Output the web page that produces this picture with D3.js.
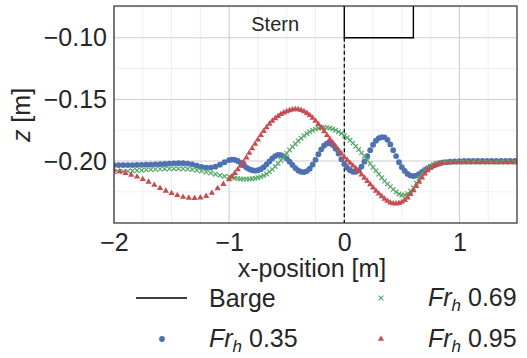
<!DOCTYPE html>
<html>
<head>
<meta charset="utf-8">
<script src="https://cdn.jsdelivr.net/npm/d3@7"></script>
<style>
  body { margin: 0; background: #fff; }
  svg text { font-family: "Liberation Sans", Arial, sans-serif; fill: #262626; }
</style>
</head>
<body>
<svg id="chart" width="527" height="358"></svg>
<script>
// x positions: coarse away from the barge, fine near it
const xLeftBG = [
  -2.00, -1.96, -1.92, -1.88, -1.84, -1.80, -1.76, -1.72, -1.68, -1.64,
  -1.60, -1.56, -1.52, -1.48, -1.44, -1.40, -1.36, -1.32, -1.28, -1.24,
  -1.20, -1.16, -1.12, -1.08, -1.04
];
const xLeftRed = [
  -2.00, -1.95, -1.90, -1.85, -1.80, -1.75, -1.70, -1.65, -1.60, -1.55,
  -1.50, -1.45, -1.40, -1.35, -1.30, -1.25, -1.20, -1.15, -1.10, -1.05
];
const xMid = [
  -1.000, -0.975, -0.950, -0.925, -0.900, -0.875, -0.850, -0.825, -0.800, -0.775,
  -0.750, -0.725, -0.700, -0.675, -0.650, -0.625, -0.600, -0.575, -0.550, -0.525,
  -0.500, -0.475, -0.450, -0.425, -0.400, -0.375, -0.350, -0.325, -0.300, -0.275,
  -0.250, -0.225, -0.200, -0.175, -0.150, -0.125, -0.100, -0.075, -0.050, -0.025,
  0.000, 0.025, 0.050, 0.075, 0.100, 0.125, 0.150, 0.175, 0.200, 0.225,
  0.250, 0.275, 0.300, 0.325, 0.350, 0.375, 0.400, 0.425, 0.450, 0.475,
  0.500, 0.525, 0.550, 0.575, 0.600, 0.625, 0.650, 0.675, 0.700, 0.725,
  0.750, 0.775, 0.800, 0.825, 0.850
];
const xRightBG = [0.88, 0.92, 0.96, 1.00, 1.04, 1.08, 1.12, 1.16, 1.20, 1.24, 1.28, 1.32, 1.36, 1.40, 1.44, 1.48];
const xRightRed = [0.90, 0.95, 1.00, 1.05, 1.10, 1.15, 1.20, 1.25, 1.30, 1.35, 1.40, 1.45, 1.50];

const zFr035 = [
  -0.2033, -0.2033, -0.2033, -0.2033, -0.2033, -0.2032, -0.2031, -0.2030, -0.2029, -0.2027,
  -0.2026, -0.2024, -0.2021, -0.2019, -0.2018, -0.2018, -0.2021, -0.2027, -0.2037, -0.2047,
  -0.2053, -0.2053, -0.2046, -0.2030, -0.2010,
  -0.1992, -0.1988, -0.1990, -0.2000, -0.2015, -0.2035, -0.2052, -0.2066, -0.2075, -0.2078,
  -0.2075, -0.2066, -0.2050, -0.2028, -0.2003, -0.1978, -0.1960, -0.1950, -0.1952, -0.1962,
  -0.1980, -0.2005, -0.2032, -0.2057, -0.2077, -0.2088, -0.2090, -0.2082, -0.2062, -0.2030,
  -0.1990, -0.1945, -0.1905, -0.1874, -0.1858, -0.1856, -0.1870, -0.1900, -0.1940, -0.1985,
  -0.2025, -0.2055, -0.2075, -0.2087, -0.2088, -0.2075, -0.2045, -0.2005, -0.1960, -0.1912,
  -0.1868, -0.1835, -0.1814, -0.1806, -0.1808, -0.1828, -0.1865, -0.1912, -0.1960, -0.2010,
  -0.2050, -0.2080, -0.2105, -0.2118, -0.2122, -0.2118, -0.2105, -0.2088, -0.2072, -0.2060,
  -0.2048, -0.2037, -0.2027, -0.2019, -0.2013,
  -0.2009, -0.2005, -0.2003, -0.2001, -0.2000, -0.2000, -0.2000, -0.2000, -0.2000, -0.2000,
  -0.2000, -0.2000, -0.2000, -0.2000, -0.2000, -0.2000
];

const zFr069 = [
  -0.2088, -0.2086, -0.2084, -0.2082, -0.2079, -0.2077, -0.2075, -0.2072, -0.2070, -0.2068,
  -0.2066, -0.2064, -0.2063, -0.2062, -0.2062, -0.2063, -0.2065, -0.2069, -0.2075, -0.2082,
  -0.2090, -0.2098, -0.2107, -0.2115, -0.2123,
  -0.2128, -0.2134, -0.2139, -0.2143, -0.2146, -0.2147, -0.2147, -0.2146, -0.2144, -0.2140,
  -0.2135, -0.2128, -0.2118, -0.2105, -0.2088, -0.2068, -0.2045, -0.2020, -0.1993, -0.1965,
  -0.1938, -0.1910, -0.1884, -0.1860, -0.1837, -0.1815, -0.1795, -0.1778, -0.1763, -0.1751,
  -0.1741, -0.1734, -0.1730, -0.1728, -0.1729, -0.1733, -0.1740, -0.1750, -0.1762, -0.1777,
  -0.1793, -0.1811, -0.1832, -0.1855, -0.1880, -0.1906, -0.1934, -0.1963, -0.1992, -0.2021,
  -0.2050, -0.2079, -0.2107, -0.2135, -0.2163, -0.2186, -0.2208, -0.2230, -0.2252, -0.2268,
  -0.2277, -0.2276, -0.2265, -0.2245, -0.2215, -0.2178, -0.2140, -0.2105, -0.2077, -0.2056,
  -0.2040, -0.2028, -0.2020, -0.2015, -0.2012,
  -0.2010, -0.2009, -0.2008, -0.2008, -0.2008, -0.2008, -0.2008, -0.2008, -0.2008, -0.2008,
  -0.2008, -0.2008, -0.2008, -0.2008, -0.2008, -0.2008
];

const zFr095 = [
  -0.2073, -0.2085, -0.2098, -0.2112, -0.2128, -0.2148, -0.2170, -0.2195, -0.2220, -0.2243,
  -0.2262, -0.2278, -0.2292, -0.2300, -0.2302, -0.2298, -0.2285, -0.2260, -0.2222, -0.2188,
  -0.2150, -0.2125, -0.2098, -0.2069, -0.2040, -0.2007, -0.1972, -0.1935, -0.1898, -0.1862,
  -0.1826, -0.1791, -0.1758, -0.1727, -0.1699, -0.1675, -0.1654, -0.1636, -0.1620, -0.1607,
  -0.1597, -0.1589, -0.1583, -0.1580, -0.1581, -0.1587, -0.1597, -0.1611, -0.1629, -0.1650,
  -0.1674, -0.1701, -0.1730, -0.1760, -0.1791, -0.1822, -0.1852, -0.1882, -0.1911, -0.1940,
  -0.1968, -0.1993, -0.2016, -0.2038, -0.2060, -0.2085, -0.2110, -0.2137, -0.2163, -0.2190,
  -0.2217, -0.2242, -0.2265, -0.2287, -0.2308, -0.2325, -0.2338, -0.2345, -0.2346, -0.2342,
  -0.2333, -0.2318, -0.2297, -0.2270, -0.2238, -0.2205, -0.2170, -0.2135, -0.2103, -0.2077,
  -0.2057, -0.2042, -0.2031, -0.2023, -0.2017,
  -0.2013, -0.2011, -0.2011, -0.2012, -0.2012, -0.2012, -0.2012, -0.2012, -0.2012, -0.2012,
  -0.2012, -0.2012, -0.2012
];

// barge outline (stern at x = 0), top runs off the axes
const bargeX = [0, 0, 0.6, 0.6];
const bargeZ = [-0.05, -0.10, -0.10, -0.05];

const xTicks = [-2, -1, 0, 1];
const yTicks = [-0.20, -0.15, -0.10];
const xMinor = [-1.75, -1.5, -1.25, -0.75, -0.5, -0.25, 0.25, 0.5, 0.75, 1.25];
const yMinor = [-0.225, -0.175, -0.125, -0.075];

const seriesNames = ['0.35', '0.69', '0.95'];
const seriesColors = ['#4C72B0', '#55A868', '#C44E52'];
const seriesMarkers = ['circle', 'cross', 'triangle'];
const seriesX = [
  xLeftBG.concat(xMid, xRightBG),
  xLeftBG.concat(xMid, xRightBG),
  xLeftRed.concat(xMid, xRightRed)
];
const seriesZ = [zFr035, zFr069, zFr095];

const margin = {top: 6, left: 114};
const iw = 517 - margin.left, ih = 223 - margin.top;
const FS = 25;

const svg = d3.select('#chart');

const x = d3.scaleLinear().domain([-2, 1.5]).range([0, iw]);
const y = d3.scaleLinear().domain([-0.2503, -0.0742]).range([ih, 0]);

const g = svg.append('g').attr('transform', `translate(${margin.left},${margin.top})`);

g.append('clipPath').attr('id', 'clip')
  .append('rect').attr('width', iw).attr('height', ih);

// grid
g.append('g').selectAll('line').data(xMinor).enter().append('line')
  .attr('x1', d => x(d)).attr('x2', d => x(d)).attr('y1', 0).attr('y2', ih)
  .attr('stroke', '#ebebeb').attr('stroke-width', 0.8);
g.append('g').selectAll('line').data(yMinor).enter().append('line')
  .attr('y1', d => y(d)).attr('y2', d => y(d)).attr('x1', 0).attr('x2', iw)
  .attr('stroke', '#ebebeb').attr('stroke-width', 0.8);
g.append('g').selectAll('line').data(xTicks).enter().append('line')
  .attr('x1', d => x(d)).attr('x2', d => x(d)).attr('y1', 0).attr('y2', ih)
  .attr('stroke', '#cccccc').attr('stroke-width', 1);
g.append('g').selectAll('line').data(yTicks).enter().append('line')
  .attr('y1', d => y(d)).attr('y2', d => y(d)).attr('x1', 0).attr('x2', iw)
  .attr('stroke', '#cccccc').attr('stroke-width', 1);

const plot = g.append('g').attr('clip-path', 'url(#clip)');

// barge + dashed stern line
const bargeLine = d3.line().x(d => x(d[0])).y(d => y(d[1]));
plot.append('path')
  .attr('d', bargeLine(bargeX.map((v, i) => [v, bargeZ[i]])))
  .attr('fill', 'none').attr('stroke', '#000').attr('stroke-width', 1.4);
plot.append('line')
  .attr('x1', x(0)).attr('x2', x(0)).attr('y1', y(-0.10)).attr('y2', ih)
  .attr('stroke', '#000').attr('stroke-width', 1.2).attr('stroke-dasharray', '4,2.5');

function drawMarker(sel, type, color) {
  if (type === 'circle') {
    sel.append('circle').attr('r', 2.9).attr('fill', color);
  } else if (type === 'cross') {
    sel.append('path').attr('d', 'M-2.3,-2.3L2.3,2.3M-2.3,2.3L2.3,-2.3')
      .attr('stroke', color).attr('stroke-width', 1.2).attr('fill', 'none');
  } else {
    sel.append('path').attr('d', d3.symbol(d3.symbolTriangle, 17)())
      .attr('fill', color);
  }
}

seriesZ.forEach((zs, k) => {
  const xv = seriesX[k];
  const grp = plot.append('g');
  zs.forEach((z, i) => {
    const m = grp.append('g').attr('transform', `translate(${x(xv[i])},${y(z)})`);
    drawMarker(m, seriesMarkers[k], seriesColors[k]);
  });
});

// frame
g.append('rect').attr('width', iw).attr('height', ih)
  .attr('fill', 'none').attr('stroke', '#333').attr('stroke-width', 1.25);

// ticks
const xAxis = g.append('g').attr('transform', `translate(0,${ih})`)
  .call(d3.axisBottom(x).tickValues(xTicks).tickSize(0).tickPadding(10)
    .tickFormat(d => d3.format('d')(d).replace('-', '\u2212')));
xAxis.select('.domain').remove();
xAxis.selectAll('text').attr('font-size', FS).attr('fill', '#262626')
  .attr('font-family', '"Liberation Sans", Arial, sans-serif');

const yAxis = g.append('g')
  .call(d3.axisLeft(y).tickValues(yTicks).tickSize(0).tickPadding(7)
    .tickFormat(d => d3.format('.2f')(d).replace('-', '\u2212')));
yAxis.select('.domain').remove();
yAxis.selectAll('text').attr('font-size', FS).attr('fill', '#262626')
  .attr('font-family', '"Liberation Sans", Arial, sans-serif');

// labels
svg.append('text').attr('x', 312).attr('y', 277).attr('text-anchor', 'middle')
  .attr('font-size', FS).text('x-position [m]');
const yl = svg.append('text').attr('transform', 'translate(30,115) rotate(-90)')
  .attr('text-anchor', 'middle').attr('font-size', FS);
yl.append('tspan').attr('font-style', 'italic').text('z');
yl.append('tspan').text(' [m]');

svg.append('text').attr('x', margin.left + x(-0.6)).attr('y', 31)
  .attr('text-anchor', 'middle').attr('font-size', 20).text('Stern');

// legend
const leg = svg.append('g');
leg.append('line').attr('x1', 136).attr('x2', 187).attr('y1', 298).attr('y2', 298)
  .attr('stroke', '#000').attr('stroke-width', 1.4);
leg.append('text').attr('x', 209).attr('y', 307).attr('font-size', FS).text('Barge');

const legPos = [[162, 339, 209], [381, 298, 428], [381, 339, 428]];
seriesNames.forEach((name, k) => {
  const [mx, my, tx] = legPos[k];
  const m = leg.append('g').attr('transform', `translate(${mx},${my})`);
  drawMarker(m, seriesMarkers[k], seriesColors[k]);
  const t = leg.append('text').attr('x', tx).attr('y', my + 8).attr('font-size', FS);
  t.append('tspan').attr('font-style', 'italic').text('Fr');
  t.append('tspan').attr('font-style', 'italic').attr('font-size', 17).attr('dy', 5).text('h');
  t.append('tspan').attr('dy', -5).text(' ' + name);
});
</script>
</body>
</html>
